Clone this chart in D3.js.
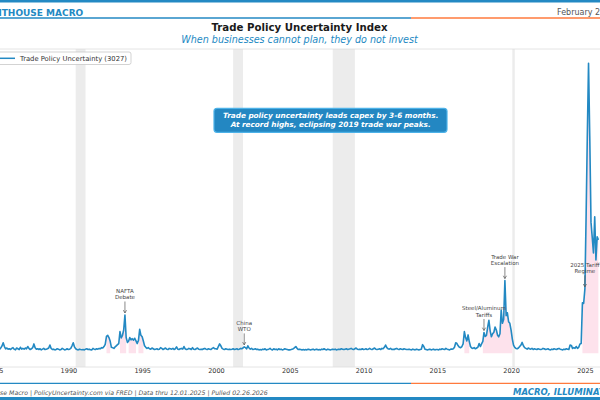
<!DOCTYPE html>
<html>
<head>
<meta charset="utf-8">
<script src="https://cdn.jsdelivr.net/npm/d3@7"></script>
<style>
  html, body { margin: 0; padding: 0; background: #fff; overflow: hidden; }
  svg { display: block; font-family: "DejaVu Sans", sans-serif; }
</style>
</head>
<body>
<script>
// monthly TPU readings, one row per year starting 1985
const startYear = 1985;
const tpuByYear = [
  [130, 110, 150, 120, 100, 140, 190, 280, 180, 120, 140, 110], // 1985
  [120, 100, 130, 150, 110, 90, 140, 120, 100, 160, 110, 130],
  [110, 140, 120, 180, 130, 100, 120, 150, 250, 150, 110, 120],
  [100, 120, 90, 110, 130, 100, 110, 120, 140, 220, 130, 100],
  [110, 90, 100, 120, 110, 90, 100, 130, 110, 90, 100, 120],
  [100, 110, 130, 200, 280, 170, 120, 100, 90, 110, 100, 95], // 1990
  [100, 90, 110, 120, 100, 110, 95, 90, 130, 110, 100, 120],
  [110, 130, 120, 150, 140, 180, 240, 450, 480, 420, 320, 160],
  [150, 130, 170, 200, 230, 260, 580, 410, 480, 620, 1022, 420],
  [290, 330, 420, 360, 390, 350, 400, 330, 260, 340, 640, 480],
  [440, 320, 200, 160, 130, 150, 120, 110, 140, 120, 100, 110], // 1995
  [120, 100, 110, 150, 130, 100, 120, 140, 110, 100, 130, 120],
  [110, 130, 100, 120, 170, 110, 100, 120, 130, 110, 180, 120],
  [100, 110, 130, 120, 100, 150, 110, 100, 120, 140, 110, 100],
  [110, 100, 120, 130, 110, 100, 120, 110, 100, 130, 150, 120],
  [120, 110, 180, 250, 200, 130, 110, 100, 120, 110, 100, 110], // 2000
  [100, 110, 120, 100, 110, 120, 100, 110, 130, 120, 140, 170],
  [150, 120, 200, 140, 110, 130, 100, 110, 120, 100, 110, 90],
  [100, 90, 110, 100, 120, 90, 100, 110, 130, 100, 90, 120],
  [100, 110, 90, 120, 100, 110, 90, 100, 120, 110, 100, 90],
  [90, 100, 110, 120, 150, 180, 130, 100, 110, 100, 90, 100], // 2005
  [90, 100, 90, 110, 100, 90, 100, 110, 90, 100, 110, 90],
  [100, 90, 110, 100, 120, 100, 90, 110, 100, 90, 100, 110],
  [100, 110, 90, 100, 110, 100, 120, 110, 100, 110, 120, 100],
  [110, 120, 130, 110, 100, 120, 140, 110, 100, 110, 100, 120],
  [100, 110, 120, 100, 110, 130, 110, 100, 120, 140, 110, 100], // 2010
  [110, 120, 100, 130, 120, 160, 220, 150, 120, 110, 130, 100],
  [110, 100, 120, 130, 110, 100, 120, 110, 100, 120, 110, 100],
  [100, 110, 100, 90, 110, 100, 90, 110, 100, 90, 100, 110],
  [230, 180, 110, 100, 90, 100, 110, 90, 100, 110, 90, 100],
  [100, 90, 110, 100, 120, 110, 100, 130, 110, 100, 90, 110], // 2015
  [110, 120, 160, 280, 260, 200, 160, 150, 180, 250, 580, 420],
  [330, 490, 320, 180, 140, 130, 150, 120, 140, 160, 260, 180],
  [250, 320, 555, 450, 480, 700, 880, 600, 440, 520, 560, 700],
  [620, 480, 440, 520, 1150, 800, 900, 1940, 1000, 1080, 840, 800],
  [620, 380, 220, 160, 130, 120, 140, 180, 220, 290, 200, 150], // 2020
  [130, 110, 140, 120, 110, 130, 100, 120, 110, 100, 120, 110],
  [100, 110, 130, 120, 100, 110, 120, 100, 90, 110, 100, 120],
  [110, 100, 120, 130, 110, 100, 90, 110, 100, 120, 110, 100],
  [220, 210, 130, 150, 130, 180, 130, 160, 250, 260, 1350, 1330],
  [1720, 3730, 5740, 7740, 5800, 3500, 3100, 2680, 3640, 2490, 3110, 3027] // 2025
];

// NBER recessions (start, end)
const recessions = [
  ["1990-07", "1991-03"],
  ["2001-03", "2001-11"],
  ["2007-12", "2009-06"],
  ["2020-02", "2020-04"]
];

const events = [
  { date: "1993-11", label: ["NAFTA", "Debate"] },
  { date: "2001-12", label: ["China", "WTO"] },
  { date: "2018-03", label: ["Steel/Aluminum", "Tariffs"] },
  { date: "2019-08", label: ["Trade War", "Escalation"] },
  { date: "2025-01", label: ["2025 Tariff", "Regime"] }
];

const tickYears = [1985, 1990, 1995, 2000, 2005, 2010, 2015, 2020, 2025];
const highThreshold = 300;

const blue = "#2389c3",
  orange = "#ff7a3d",
  pink = "#fde2ec",
  shade = "#ececec";

const width = 600,
  height = 400;
const plot = { left: -10, right: 610, top: 49, bottom: 367 };

const parse = d3.timeParse("%Y-%m");
const data = tpuByYear.flatMap((row, i) =>
  row.map((v, m) => ({ date: new Date(startYear + i, m, 1), value: v }))
);
const latest = data[data.length - 1].value;

const svg = d3
  .select("body")
  .append("svg")
  .attr("width", width)
  .attr("height", height);

// x scale pinned to where 1985 and 2025 sit in the frame
const x = d3
  .scaleTime()
  .domain([new Date(1985, 0, 1), new Date(2025, 0, 1)])
  .range([-5.4, 584.9]);

const y = d3.scaleLinear().domain([-366, 8120]).range([plot.bottom, plot.top]);

// header / footer rules
svg.append("rect").attr("x", 0).attr("y", 0).attr("width", width).attr("height", 2.5).attr("fill", blue);
svg.append("rect").attr("x", 0).attr("y", 397).attr("width", width).attr("height", 3).attr("fill", blue);

[18, 383.3].forEach((ly) => {
  svg.append("line").attr("x1", 0).attr("x2", 411).attr("y1", ly).attr("y2", ly)
    .attr("stroke", blue).attr("stroke-width", 1.3);
  svg.append("line").attr("x1", 411).attr("x2", width).attr("y1", ly).attr("y2", ly)
    .attr("stroke", orange).attr("stroke-width", 1.3);
});

svg.append("text")
  .attr("x", -22.3).attr("y", 16)
  .attr("fill", blue).style("font-size", "9px").style("font-weight", "bold")
  .text("LIGHTHOUSE MACRO");

svg.append("text")
  .attr("x", 557).attr("y", 15)
  .attr("fill", "#555").style("font-size", "8px")
  .text("February 26, 2026");

svg.append("text")
  .attr("x", 299.5).attr("y", 30.5).attr("text-anchor", "middle")
  .attr("fill", "#1a1a1a").style("font-size", "10.2px").style("font-weight", "bold")
  .text("Trade Policy Uncertainty Index");

svg.append("text")
  .attr("x", 299.5).attr("y", 42.5).attr("text-anchor", "middle")
  .attr("fill", blue).style("font-size", "9.6px").style("font-style", "italic")
  .text("When businesses cannot plan, they do not invest");

svg.append("text")
  .attr("x", -27).attr("y", 394.5)
  .attr("fill", "#555").style("font-size", "6.2px").style("font-style", "italic")
  .text("Lighthouse Macro | PolicyUncertainty.com via FRED | Data thru 12.01.2025 | Pulled 02.26.2026");

svg.append("text")
  .attr("x", 513).attr("y", 395)
  .attr("fill", blue).style("font-size", "8.5px").style("font-weight", "bold").style("font-style", "italic")
  .text("MACRO, ILLUMINATED.");

// plot area
svg.append("clipPath").attr("id", "clip")
  .append("rect")
  .attr("x", plot.left).attr("y", plot.top)
  .attr("width", plot.right - plot.left).attr("height", plot.bottom - plot.top);

const g = svg.append("g").attr("clip-path", "url(#clip)");

g.selectAll(".recession")
  .data(recessions)
  .join("rect")
  .attr("class", "recession")
  .attr("x", (d) => x(parse(d[0])))
  .attr("width", (d) => x(parse(d[1])) - x(parse(d[0])))
  .attr("y", plot.top)
  .attr("height", plot.bottom - plot.top)
  .attr("fill", shade);

// elevated periods filled under the line
const highArea = d3
  .area()
  .defined((d) => d.value > highThreshold)
  .x((d) => x(d.date))
  .y0(y(0))
  .y1((d) => y(d.value));

g.append("path").datum(data).attr("d", highArea).attr("fill", pink);

const line = d3
  .line()
  .x((d) => x(d.date))
  .y((d) => y(d.value));

g.append("path")
  .datum(data)
  .attr("d", line)
  .attr("fill", "none")
  .attr("stroke", blue)
  .attr("stroke-width", 1.6)
  .attr("stroke-linejoin", "round");

// frame
svg.append("line").attr("x1", 0).attr("x2", width).attr("y1", plot.top).attr("y2", plot.top)
  .attr("stroke", "#dddddd").attr("stroke-width", 0.8);

const xAxis = svg
  .append("g")
  .attr("transform", `translate(0,${plot.bottom})`)
  .call(
    d3.axisBottom(x)
      .tickValues(tickYears.map((yr) => new Date(yr, 0, 1)))
      .tickFormat(d3.timeFormat("%Y"))
      .tickSize(0)
      .tickPadding(1.7)
  );
xAxis.select(".domain").attr("stroke", "#dddddd").attr("stroke-width", 0.8)
  .attr("d", `M0,0H${width}`);
xAxis.selectAll("text")
  .attr("fill", "#333")
  .style("font-size", "6.5px")
  .style("font-family", "DejaVu Sans, sans-serif");

// event annotations
const ann = svg.selectAll(".event").data(events).join("g").attr("class", "event");
ann.each(function (d) {
  const pt = data.find((p) => +p.date === +parse(d.date));
  const px = x(pt.date),
    py = y(pt.value);
  const sel = d3.select(this);
  d.label.forEach((t, i) => {
    sel.append("text")
      .attr("x", px).attr("y", py - 22 + i * 6.2)
      .attr("text-anchor", "middle")
      .attr("fill", "#444")
      .style("font-size", "5.5px")
      .text(t);
  });
  sel.append("line")
    .attr("x1", px).attr("x2", px)
    .attr("y1", py - 13.5).attr("y2", py - 2)
    .attr("stroke", "#555").attr("stroke-width", 0.7);
  sel.append("path")
    .attr("d", `M${px - 1.6},${py - 4.8}L${px},${py - 2}L${px + 1.6},${py - 4.8}`)
    .attr("fill", "none").attr("stroke", "#555").attr("stroke-width", 0.7);
});

// legend
const legend = svg.append("g");
legend.append("rect")
  .attr("x", -4).attr("y", 52).attr("width", 135).attr("height", 12.5).attr("rx", 2)
  .attr("fill", "#fff").attr("fill-opacity", 0.9)
  .attr("stroke", "#c8c8c8").attr("stroke-width", 0.8);
legend.append("line")
  .attr("x1", -1).attr("x2", 15).attr("y1", 58.3).attr("y2", 58.3)
  .attr("stroke", blue).attr("stroke-width", 1.5);
legend.append("text")
  .attr("x", 20).attr("y", 60.8)
  .attr("fill", "#333").style("font-size", "6.8px")
  .text(`Trade Policy Uncertainty (${latest})`);

// callout
const callout = svg.append("g");
callout.append("rect")
  .attr("x", 214).attr("y", 108.3).attr("width", 233).attr("height", 24).attr("rx", 3)
  .attr("fill", "#2387c2").attr("stroke", "#4db2e8").attr("stroke-width", 1.2);
["Trade policy uncertainty leads capex by 3-6 months.",
 "At record highs, eclipsing 2019 trade war peaks."].forEach((t, i) => {
  callout.append("text")
    .attr("x", 330.7).attr("y", 118 + i * 9)
    .attr("text-anchor", "middle")
    .attr("fill", "#fff")
    .style("font-size", "7.3px").style("font-weight", "bold").style("font-style", "italic")
    .text(t);
});
</script>
</body>
</html>
